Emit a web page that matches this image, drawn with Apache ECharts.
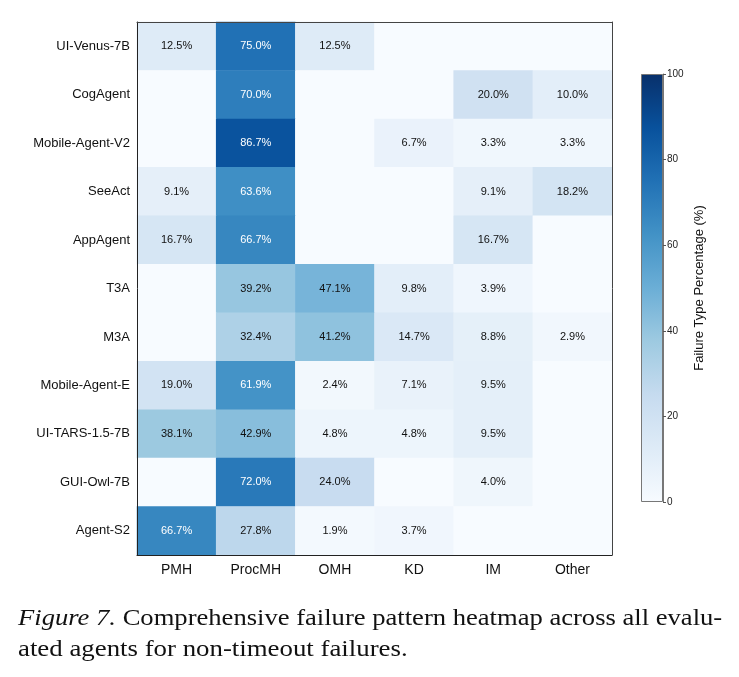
<!DOCTYPE html>
<html>
<head>
<meta charset="utf-8">
<script src="https://cdn.jsdelivr.net/npm/echarts@6/dist/echarts.min.js"></script>
<style>
html,body{margin:0;padding:0;background:#fff;}
#chart{width:739px;height:677px;}
</style>
</head>
<body>
<div id="chart"></div>
<script>
var agents = ['UI-Venus-7B','CogAgent','Mobile-Agent-V2','SeeAct','AppAgent','T3A','M3A','Mobile-Agent-E','UI-TARS-1.5-7B','GUI-Owl-7B','Agent-S2'];
var failTypes = ['PMH','ProcMH','OMH','KD','IM','Other'];
// one row per agent, one column per failure type (%)
var rates = [
	[12.5, 75.0, 12.5, 0,    0,    0],
	[0,    70.0, 0,    0,    20.0, 10.0],
	[0,    86.7, 0,    6.7,  3.3,  3.3],
	[9.1,  63.6, 0,    0,    9.1,  18.2],
	[16.7, 66.7, 0,    0,    16.7, 0],
	[0,    39.2, 47.1, 9.8,  3.9,  0],
	[0,    32.4, 41.2, 14.7, 8.8,  2.9],
	[19.0, 61.9, 2.4,  7.1,  9.5,  0],
	[38.1, 42.9, 4.8,  4.8,  9.5,  0],
	[0,    72.0, 24.0, 0,    4.0,  0],
	[66.7, 27.8, 1.9,  3.7,  0,    0]
];
var cbTicks = [0,20,40,60,80,100];
var blues = ['#f7fbff','#deebf7','#c6dbef','#9ecae1','#6baed6','#4292c6','#2171b5','#08519c','#08306b'];

var cells = [];
for(var i=0;i<agents.length;i++){
	for(var j=0;j<failTypes.length;j++){
		cells.push([j,i,rates[i][j]]);
	}
}
var cbMax = cbTicks[cbTicks.length-1];

var stops = [];
for(var k=0;k<blues.length;k++){
	stops.push({offset:1-k/(blues.length-1), color:blues[k]});
}

var font = '"Liberation Sans", Arial, sans-serif';
var serif = '"Liberation Serif", "Times New Roman", serif';
var capStyle = {
	fontFamily:serif, fontSize:24, fill:'#111',
	verticalAlign:'middle', align:'left',
	rich:{i:{fontStyle:'italic',fontFamily:serif,fontSize:24,fill:'#111'}}
};
var chart = echarts.init(document.getElementById('chart'));
chart.setOption({
	animation:false,
	textStyle:{fontFamily:font},
	graphic:[
		{
			type:'text', x:18, y:619, scaleX:1.108,
			style:echarts.util.extend({text:'{i|Figure 7.} Comprehensive failure pattern heatmap across all evalu-'}, capStyle)
		},
		{
			type:'text', x:18, y:650, scaleX:1.118,
			style:echarts.util.extend({text:'ated agents for non-timeout failures.'}, capStyle)
		}
	],
	grid:[
		{left:137, top:22, width:475, height:533},
		{left:641, top:74, width:22, height:428}
	],
	visualMap:{
		type:'continuous',
		show:false,
		min:0,
		max:cbMax,
		seriesIndex:0,
		inRange:{color:blues}
	},
	xAxis:[
		{
			type:'category', gridIndex:0, data:failTypes, z:10,
			axisLine:{lineStyle:{color:'#222',width:1}},
			axisTick:{alignWithLabel:true,length:4,lineStyle:{color:'#222'}},
			axisLabel:{fontSize:14,color:'#111',margin:8}
		},
		{
			type:'category', gridIndex:0, data:failTypes, position:'top', z:10,
			axisLine:{lineStyle:{color:'#444',width:1}},
			axisTick:{show:false}, axisLabel:{show:false}
		},
		{
			type:'category', gridIndex:1, data:['cb'], show:false
		}
	],
	yAxis:[
		{
			type:'category', gridIndex:0, data:agents, inverse:true, z:10,
			axisLine:{lineStyle:{color:'#222',width:1}},
			axisTick:{alignWithLabel:true,length:4,lineStyle:{color:'#222'}},
			axisLabel:{fontSize:13,color:'#111',margin:7}
		},
		{
			type:'category', gridIndex:0, data:agents, inverse:true, position:'right', z:10,
			axisLine:{lineStyle:{color:'#444',width:1}},
			axisTick:{show:false}, axisLabel:{show:false}
		},
		{
			type:'value', gridIndex:1, position:'right', min:0, max:cbMax, interval:20,
			splitLine:{show:false},
			axisLine:{show:true,lineStyle:{color:'#777'}},
			axisTick:{show:true,length:3,lineStyle:{color:'#555'}},
			axisLabel:{fontSize:10,color:'#222',margin:4},
			name:'Failure Type Percentage (%)',
			nameLocation:'middle',
			nameRotate:90,
			nameGap:30,
			nameTextStyle:{fontSize:13,color:'#111'}
		}
	],
	series:[
		{
			type:'heatmap',
			xAxisIndex:0,
			yAxisIndex:0,
			data:cells,
			itemStyle:{borderWidth:0},
			label:{
				show:true,
				formatter:function(p){
					var v = p.value[2];
					if(v===0) return '';
					return (v>55 ? '{w|' : '{b|') + v.toFixed(1) + '%}';
				},
				rich:{
					w:{color:'#fff',fontSize:11,fontFamily:font},
					b:{color:'#111',fontSize:11,fontFamily:font}
				}
			}
		},
		{
			type:'bar',
			xAxisIndex:2,
			yAxisIndex:2,
			data:[cbMax],
			barWidth:'100%',
			silent:true,
			itemStyle:{
				color:new echarts.graphic.LinearGradient(0,0,0,1,stops),
				borderColor:'#777',
				borderWidth:1
			}
		}
	]
});
</script>
</body>
</html>
